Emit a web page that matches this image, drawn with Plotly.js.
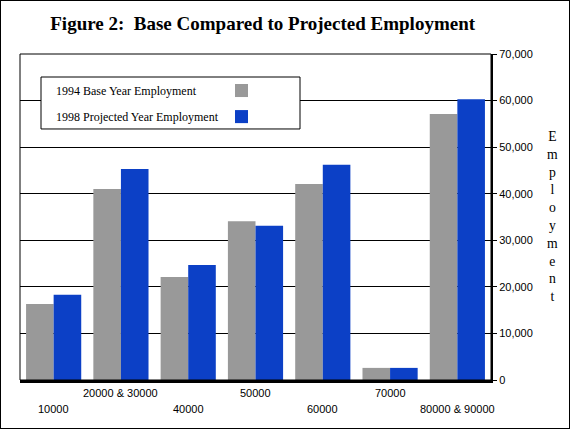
<!DOCTYPE html>
<html>
<head>
<meta charset="utf-8">
<script src="https://cdn.plot.ly/plotly-3.0.1.min.js"></script>
<style>
  body { margin: 0; background: #fff; }
  #plot { width: 571px; height: 429px; }
  #frame { position: absolute; left: 0; top: 0; width: 568px; height: 427px;
           border: 1px solid #000; pointer-events: none; }
</style>
</head>
<body>
<div id="plot"></div>
<div id="frame"></div>
<script>
// SIC groups on the x axis
var categories = ['10000', '20000 & 30000', '40000', '50000', '60000', '70000', '80000 & 90000'];
var baseYear = [16300, 41000, 22100, 34100, 42100, 2600, 57100];
var projectedYear = [18300, 45300, 24700, 33100, 46200, 2600, 60300];
var seriesNames = ['1994 Base Year Employment', '1998 Projected Year Employment'];
var yTicks = [0, 10000, 20000, 30000, 40000, 50000, 60000, 70000];

var gray = '#999999';
var blue = '#0c40c6';
var serif = '"Liberation Serif", "DejaVu Serif", serif';
var sans = '"Liberation Sans", Arial, sans-serif';

var idx = categories.map(function (c, i) { return i; });

var trace1 = {
    x: idx, y: baseYear, type: 'bar', name: seriesNames[0],
    marker: { color: gray, line: { width: 0 } }
};
var trace2 = {
    x: idx, y: projectedYear, type: 'bar', name: seriesNames[1],
    marker: { color: blue, line: { width: 0 } }
};

// x labels alternate between two rows
var annotations = categories.map(function (c, i) {
    return {
        x: i, xref: 'x', y: i % 2 ? -0.04 : -0.089, yref: 'paper',
        text: c, showarrow: false, xanchor: 'center', yanchor: 'middle',
        font: { family: sans, size: 11, color: '#000' }
    };
});

annotations.push({
    x: 1.1316, xref: 'paper', y: 0.5015, yref: 'paper',
    text: 'Employment'.split('').join('<br>'),
    showarrow: false, xanchor: 'center', yanchor: 'middle',
    font: { family: serif, size: 13.7, color: '#000' }
});

// legend: text on the left, swatch on the right
annotations.push({
    x: 0.0722, xref: 'paper', y: 0.8865, yref: 'paper', text: seriesNames[0],
    showarrow: false, xanchor: 'left', yanchor: 'middle',
    font: { family: serif, size: 12, color: '#000' }
});
annotations.push({
    x: 0.0722, xref: 'paper', y: 0.8067, yref: 'paper', text: seriesNames[1],
    showarrow: false, xanchor: 'left', yanchor: 'middle',
    font: { family: serif, size: 12, color: '#000' }
});

var shapes = [
    { type: 'rect', xref: 'paper', yref: 'paper', x0: 0, x1: 1, y0: 0, y1: 1,
      line: { color: '#000', width: 1 }, layer: 'above' },
    { type: 'rect', xref: 'paper', yref: 'paper', x0: 0.0446, x1: 0.5945, y0: 0.770, y1: 0.9294,
      line: { color: '#000', width: 1 }, fillcolor: '#fff', layer: 'above' },
    { type: 'rect', xref: 'paper', yref: 'paper', x0: 0.4565, x1: 0.4841, y0: 0.868, y1: 0.908,
      line: { width: 0 }, fillcolor: gray, layer: 'above' },
    { type: 'rect', xref: 'paper', yref: 'paper', x0: 0.4565, x1: 0.4841, y0: 0.788, y1: 0.828,
      line: { width: 0 }, fillcolor: blue, layer: 'above' }
];

var layout = {
    width: 571,
    height: 429,
    margin: { l: 20, r: 80, t: 54, b: 49 },
    paper_bgcolor: '#fff',
    plot_bgcolor: '#fff',
    showlegend: false,
    barmode: 'group',
    bargap: 0.18,
    bargroupgap: 0,
    title: {
        text: 'Figure 2:&nbsp; Base Compared to Projected Employment',
        x: 0.46, xref: 'container', xanchor: 'center',
        y: 0.946, yref: 'container', yanchor: 'middle',
        font: { family: serif, size: 19, color: '#000', weight: 'bold' }
    },
    xaxis: {
        range: [-0.5, categories.length - 0.5],
        showticklabels: false,
        showgrid: false,
        zeroline: false,
        showline: true,
        linecolor: '#000',
        linewidth: 3,
        ticks: ''
    },
    yaxis: {
        side: 'right',
        range: [0, 70000],
        tickvals: yTicks,
        tickformat: ',d',
        ticks: 'outside',
        ticklen: 4,
        tickcolor: '#000',
        showline: true,
        linecolor: '#000',
        linewidth: 2,
        showgrid: true,
        gridcolor: '#000',
        gridwidth: 1,
        zeroline: false,
        tickfont: { family: sans, size: 11, color: '#000' }
    },
    annotations: annotations,
    shapes: shapes
};

Plotly.newPlot('plot', [trace1, trace2], layout, { displayModeBar: false, staticPlot: true });
</script>
</body>
</html>
